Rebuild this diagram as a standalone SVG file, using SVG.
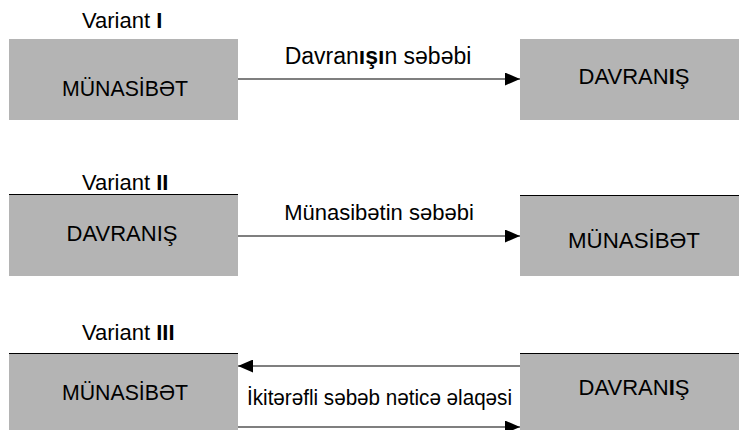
<svg xmlns="http://www.w3.org/2000/svg" width="739" height="430" viewBox="0 0 739 430">
<style>
text{font-family:"Liberation Sans",Arial,sans-serif;font-size:22px;fill:#000}
.c{text-anchor:middle}
.box{fill:#b4b4b4;stroke:none}
.top{stroke:#000;stroke-width:1}
.b{font-weight:bold}
.ln{stroke:#000;stroke-width:1.2;fill:none}
</style>
<defs>
<marker id="ah" viewBox="0 0 15 13" refX="15" refY="6.5" markerWidth="15" markerHeight="13" markerUnits="userSpaceOnUse" orient="auto">
<path d="M0,0 L15,6.5 L0,13 Z" fill="#000"/>
</marker>
</defs>
<rect width="739" height="430" fill="#fff"/>
<g id="labels">
<text x="82" y="28">Variant <tspan class="b">I</tspan></text>
<text x="82" y="190">Variant <tspan class="b">II</tspan></text>
<text x="82" y="340">Variant <tspan class="b">III</tspan></text>
</g>
<g id="n1"><rect class="box" x="9" y="39" width="229" height="81"/><text x="62" y="96" textLength="126" lengthAdjust="spacingAndGlyphs">MÜNASİBƏT</text></g>
<g id="n2"><rect class="box" x="520" y="39" width="219" height="81"/><text class="c" x="634" y="84">DAVRAN<tspan class="b">I</tspan>Ş</text></g>
<g id="n3"><rect class="box" x="9" y="194" width="229" height="82"/><line class="top" x1="9" y1="194.5" x2="238" y2="194.5"/><text class="c" x="122" y="241">DAVRANIŞ</text></g>
<g id="n4"><rect class="box" x="520" y="195" width="219" height="81"/><line class="top" x1="520" y1="195.5" x2="739" y2="195.5"/><text x="568" y="248" textLength="132" lengthAdjust="spacingAndGlyphs">MÜNASİBƏT</text></g>
<g id="n5"><rect class="box" x="9" y="353" width="229" height="77"/><line class="top" x1="9" y1="353.5" x2="238" y2="353.5"/><text x="62" y="400" textLength="126" lengthAdjust="spacingAndGlyphs">MÜNASİBƏT</text></g>
<g id="n6"><rect class="box" x="520" y="353" width="219" height="77"/><line class="top" x1="520" y1="353.5" x2="739" y2="353.5"/><text class="c" x="634" y="395">DAVRAN<tspan class="b">I</tspan>Ş</text></g>
<g id="connectors">
<line class="ln" x1="238" y1="79" x2="520" y2="79" marker-end="url(#ah)"/>
<text class="c" x="378" y="64" style="font-size:23px">Davran<tspan class="b">ışı</tspan>n səbəbi</text>
<line class="ln" x1="238" y1="236" x2="520" y2="236" marker-end="url(#ah)"/>
<text class="c" x="379" y="220">Münasibətin səbəbi</text>
<line class="ln" x1="520" y1="366" x2="238" y2="366" marker-end="url(#ah)"/>
<text x="247" y="405" textLength="265" lengthAdjust="spacingAndGlyphs">İkitərəfli səbəb nəticə əlaqəsi</text>
<line class="ln" x1="238" y1="427" x2="520" y2="427" marker-end="url(#ah)"/>
</g>
</svg>
